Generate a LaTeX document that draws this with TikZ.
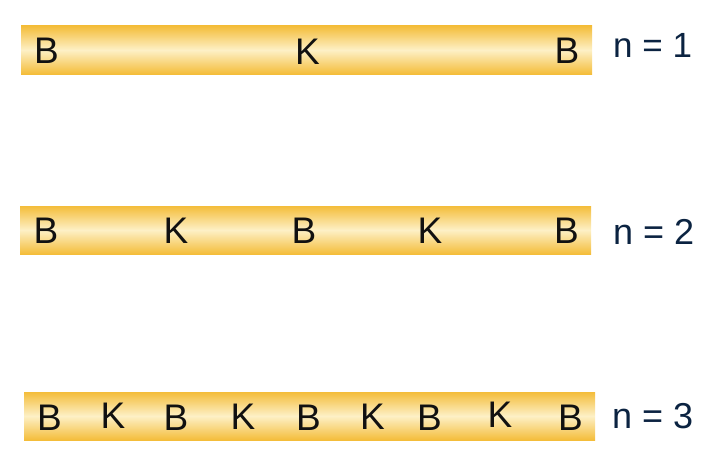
\documentclass[tikz,border=0pt]{standalone}
\usepackage{fontspec}
\setmainfont{Liberation Sans}
\definecolor{barEdge}{HTML}{F4BD3A}
\definecolor{barMid}{HTML}{FDF0C6}
\definecolor{letterCol}{HTML}{111111}
\definecolor{labelCol}{HTML}{0B2341}
\begin{document}
\begin{tikzpicture}[x=1pt,y=-1pt,
  bar/.style={top color=barEdge,bottom color=barEdge,middle color=barMid},
  letter/.style={inner sep=0pt,anchor=base,text=letterCol,font=\fontsize{37}{37}\selectfont},
  lbl/.style={inner sep=0pt,anchor=base west,text=labelCol,font=\fontsize{36}{36}\selectfont}]
\useasboundingbox (0,0) rectangle (714,460);
% bars
\shade[bar] (21,26) rectangle (592,74);
\shade[bar] (20,206) rectangle (591,254);
\shade[bar] (24,392) rectangle (595,440);
% row 1
\node[letter] (a1) at (46.5,63.5) {B};
\node[letter] (a2) at (307.5,64) {K};
\node[letter] (a3) at (567,63.5) {B};
\node[lbl,font=\fontsize{35}{35}\selectfont] (l1) at (613,57) {n = 1};
% row 2
\node[letter] (b1) at (46,243) {B};
\node[letter] (b2) at (176,243) {K};
\node[letter] (b3) at (304,243) {B};
\node[letter] (b4) at (430,243) {K};
\node[letter] (b5) at (566.5,243) {B};
\node[lbl] (l2) at (613,244) {n = 2};
% row 3
\node[letter] (c1) at (49.5,430) {B};
\node[letter] (c2) at (113,428.5) {K};
\node[letter] (c3) at (176,430) {B};
\node[letter] (c4) at (243,429) {K};
\node[letter] (c5) at (308.5,430) {B};
\node[letter] (c6) at (372.5,429) {K};
\node[letter] (c7) at (429.5,430) {B};
\node[letter] (c8) at (500,427) {K};
\node[letter] (c9) at (570.5,430) {B};
\node[lbl] (l3) at (612,428) {n = 3};
\end{tikzpicture}
\end{document}
